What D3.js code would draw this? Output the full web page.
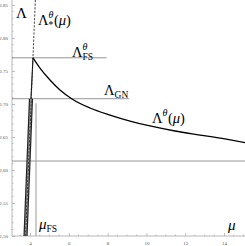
<!DOCTYPE html>
<html lang="en">
<head>
<meta charset="UTF-8">
<title>Lambda theta mu</title>
<script src="https://d3js.org/d3.v7.min.js"></script>
<style>
  html, body { margin: 0; padding: 0; background: #fff; }
  svg text { font-family: 'Liberation Serif', 'DejaVu Serif', serif; }
</style>
</head>
<body>
<div id="chart"></div>
<script>
  // tick values
  const muTicks = [4, 6, 8, 10, 12, 14];
  const lamTicks = [2.50, 2.55, 2.60, 2.65, 2.70, 2.75, 2.80, 2.85];

  // Lambda^theta(mu) decaying branch
  const curveMu  = [4.155, 4.515, 5.03, 5.546, 6.165, 7.093, 8.124, 9.155, 10.186, 11.474, 12.763, 14.05, 15.1];
  const curveLam = [2.770, 2.7545, 2.7364, 2.7212, 2.7076, 2.6939, 2.6833, 2.6742, 2.6667, 2.6591, 2.6530, 2.6470, 2.6415];

  // rising branch: thick piece below Lambda_GN, thin piece up to the peak
  const riseMu  = [3.77, 4.05];
  const riseLam = [2.50, 2.708];
  const peakMu  = [4.05, 4.155];
  const peakLam = [2.708, 2.770];

  // Lambda_*^theta(mu) dashed line
  const starMu  = [3.77, 4.28];
  const starLam = [2.50, 2.86];

  // reference levels
  const lamFS = 2.770, lamFSEnd = 7.95;
  const lamGN = 2.708, lamGNEnd = 9.1;
  const lamLow = 2.6136;
  const muFS = 4.31, muFSTop = 2.701;

  const W = 245, H = 246;
  const x = d3.scaleLinear().domain([4, 14]).range([30, 224]);
  const y = d3.scaleLinear().domain([2.50, 2.85]).range([236, 5]);
  const x0 = 12, x1 = 245;

  const svg = d3.select("#chart").append("svg")
    .attr("width", W).attr("height", H);

  // axes
  const axisColor = "#999";
  const xAxis = svg.append("g").attr("transform", `translate(0,${y(2.5)})`)
    .call(d3.axisBottom(x).tickValues(muTicks).tickSize(3).tickPadding(2).tickFormat(d3.format("d")));
  const yAxis = svg.append("g").attr("transform", `translate(${x0},0)`)
    .call(d3.axisLeft(y).tickValues(lamTicks).tickSize(3).tickPadding(1).tickFormat(d3.format(".2f")));
  [xAxis, yAxis].forEach(g => {
    g.select(".domain").remove();
    g.selectAll("line").attr("stroke", axisColor).attr("stroke-width", 0.6);
    g.selectAll("text").attr("fill", "#555").style("font-size", "5px")
      .style("font-family", "'Liberation Serif', serif");
  });
  xAxis.selectAll("line").attr("y1", -3).attr("y2", 0);
  yAxis.selectAll("line").attr("x1", 0).attr("x2", 3);
  svg.append("line").attr("x1", x0).attr("x2", x1).attr("y1", y(2.5)).attr("y2", y(2.5))
    .attr("stroke", axisColor).attr("stroke-width", 0.7);
  svg.append("line").attr("x1", x0).attr("x2", x0).attr("y1", 0).attr("y2", y(2.5))
    .attr("stroke", axisColor).attr("stroke-width", 0.7);

  // minor ticks
  const minorX = d3.range(3.5, 15.01, 0.5).filter(v => !muTicks.includes(v) && x(v) > x0 && x(v) <= x1);
  svg.selectAll(".mx").data(minorX).join("line")
    .attr("x1", d => x(d)).attr("x2", d => x(d))
    .attr("y1", y(2.5) - 1.6).attr("y2", y(2.5))
    .attr("stroke", axisColor).attr("stroke-width", 0.5);
  const minorY = d3.range(2.50, 2.86, 0.01).map(v => +v.toFixed(2)).filter(v => !lamTicks.includes(v));
  svg.selectAll(".my").data(minorY).join("line")
    .attr("x1", x0).attr("x2", x0 + 1.6)
    .attr("y1", d => y(d)).attr("y2", d => y(d))
    .attr("stroke", axisColor).attr("stroke-width", 0.5);

  // reference lines
  const refColor = "#888";
  svg.append("line").attr("x1", x0).attr("x2", x(lamFSEnd)).attr("y1", y(lamFS)).attr("y2", y(lamFS))
    .attr("stroke", refColor).attr("stroke-width", 0.9);
  svg.append("line").attr("x1", x0).attr("x2", x(lamGNEnd)).attr("y1", y(lamGN)).attr("y2", y(lamGN))
    .attr("stroke", refColor).attr("stroke-width", 0.9);
  svg.append("line").attr("x1", x0).attr("x2", x1).attr("y1", y(lamLow)).attr("y2", y(lamLow))
    .attr("stroke", refColor).attr("stroke-width", 0.9);
  svg.append("line").attr("x1", x(muFS)).attr("x2", x(muFS)).attr("y1", y(muFSTop)).attr("y2", y(2.5))
    .attr("stroke", "#aaa").attr("stroke-width", 1.2);

  const line = d3.line().x(d => x(d[0])).y(d => y(d[1]));
  const zip = (a, b) => a.map((v, i) => [v, b[i]]);

  // thick rising branch
  svg.append("path").attr("d", line(zip(riseMu, riseLam)))
    .attr("fill", "none").attr("stroke", "#222").attr("stroke-width", 4.2);
  svg.append("path").attr("d", line(zip(riseMu, riseLam)))
    .attr("fill", "none").attr("stroke", "#999").attr("stroke-width", 1.8);

  // thin piece to peak and decaying curve
  svg.append("path").attr("d", line(zip(peakMu, peakLam)))
    .attr("fill", "none").attr("stroke", "#000").attr("stroke-width", 1.1);
  svg.append("path").attr("d", d3.line().x(d => x(d[0])).y(d => y(d[1])).curve(d3.curveMonotoneX)(zip(curveMu, curveLam)))
    .attr("fill", "none").attr("stroke", "#000").attr("stroke-width", 1.3);

  // dashed Lambda_* line
  svg.append("path").attr("d", line(zip(starMu, starLam)))
    .attr("fill", "none").attr("stroke", "#333").attr("stroke-width", 0.9)
    .attr("stroke-dasharray", "2.2,1.4");

  // labels: pieces placed one after another, sub/sup stacked when both given
  function label(px, py, pieces) {
    const g = svg.append("g");
    let cx = px;
    pieces.forEach(p => {
      const size = p.size || 14.5;
      const mk = (txt, dy, sz, it) => g.append("text").attr("x", cx).attr("y", py + dy)
        .style("font-size", sz + "px").style("font-style", it ? "italic" : "normal").attr("fill", "#000").text(txt);
      if (p.sup || p.sub) {
        let w = 0;
        if (p.sup) w = Math.max(w, mk(p.sup, -7, 10, true).node().getComputedTextLength());
        if (p.sub) w = Math.max(w, mk(p.sub, 3, 9.5, false).node().getComputedTextLength());
        cx += w + 0.5;
      } else {
        cx += mk(p.t, 0, size, p.it).node().getComputedTextLength();
      }
    });
  }
  label(16, 18, [{t: "Λ", size: 15}]);
  label(38, 25, [{t: "Λ"}, {sup: "θ", sub: "*"}, {t: "(μ)".slice(0, 1)}, {t: "μ", it: true}, {t: ")"}]);
  label(72, 57, [{t: "Λ"}, {sup: "θ", sub: "FS"}]);
  label(104, 95, [{t: "Λ"}, {sub: "GN"}]);
  label(152, 123, [{t: "Λ"}, {sup: "θ"}, {t: "("}, {t: "μ", it: true}, {t: ")"}]);
  label(39, 229, [{t: "μ", it: true, size: 15}, {sub: "FS"}]);
  label(228, 230, [{t: "μ", it: true, size: 15}]);
</script>
</body>
</html>
